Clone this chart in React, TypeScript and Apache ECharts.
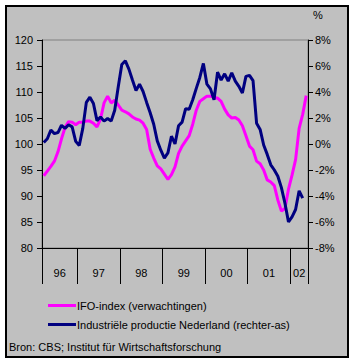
import React, { useEffect, useRef } from 'react';
import * as echarts from 'echarts';

const months = [
  'mrt 96', 'apr 96', 'mei 96', 'jun 96', 'jul 96', 'aug 96', 'sep 96', 'okt 96', 'nov 96', 'dec 96',
  'jan 97', 'feb 97', 'mrt 97', 'apr 97', 'mei 97', 'jun 97', 'jul 97', 'aug 97', 'sep 97', 'okt 97', 'nov 97', 'dec 97',
  'jan 98', 'feb 98', 'mrt 98', 'apr 98', 'mei 98', 'jun 98', 'jul 98', 'aug 98', 'sep 98', 'okt 98', 'nov 98', 'dec 98',
  'jan 99', 'feb 99', 'mrt 99', 'apr 99', 'mei 99', 'jun 99', 'jul 99', 'aug 99', 'sep 99', 'okt 99', 'nov 99', 'dec 99',
  'jan 00', 'feb 00', 'mrt 00', 'apr 00', 'mei 00', 'jun 00', 'jul 00', 'aug 00', 'sep 00', 'okt 00', 'nov 00', 'dec 00',
  'jan 01', 'feb 01', 'mrt 01', 'apr 01', 'mei 01', 'jun 01', 'jul 01', 'aug 01', 'sep 01', 'okt 01', 'nov 01', 'dec 01',
  'jan 02', 'feb 02', 'mrt 02', 'apr 02', 'mei 02',
];

// IFO-index (verwachtingen), left axis
const ifoIndex = [
  93.9, 94.8, 95.7, 96.7, 98.5, 101.0, 103.2, 104.3, 104.2, 103.7,
  104.2, 104.2, 104.4, 104.4, 104.0, 103.3, 104.8, 107.9, 109.2, 107.9, 108.4, 107.5,
  106.5, 106.2, 105.8, 105.2, 104.8, 104.6, 104.0, 102.8, 99.0, 97.3, 95.8, 95.2,
  94.2, 93.2, 94.1, 95.6, 98.2, 99.6, 100.6, 101.6, 103.8, 106.5, 108.2, 108.7,
  109.2, 109.2, 109.0, 108.8, 108.2, 106.7, 105.6, 105.0, 105.1, 104.6, 103.5, 101.6,
  99.6, 98.9, 96.7, 96.2, 95.0, 93.1, 92.7, 92.0, 89.2, 87.1, 87.6, 91.3,
  94.0, 97.0, 103.0, 105.7, 109.3,
];

// Industriële productie Nederland (%), right axis
const industrialProduction = [
  0.12, 0.4, 1.08, 0.8, 0.88, 1.44, 1.2, 1.48, 1.32, 0.2,
  -0.12, 1.2, 3.2, 3.6, 3.12, 1.8, 2.08, 1.76, 1.96, 1.76, 2.6, 4.4,
  6.12, 6.4, 5.76, 4.92, 4.12, 4.6, 4.04, 3.2, 2.4, 1.52, 0.24, -0.48,
  -1.08, -0.68, 0.6, 0.0, 1.4, 1.68, 2.72, 2.68, 3.4, 4.28, 5.12, 6.2,
  4.6, 4.24, 3.4, 5.52, 4.92, 5.4, 4.84, 5.48, 4.84, 4.44, 3.92, 5.2,
  5.28, 4.88, 1.6, 1.12, -0.08, -0.8, -1.6, -2.0, -2.48, -3.36, -4.56, -6.0,
  -5.6, -5.04, -3.6, -4.16, null,
];

const yearLabels = ['96', '97', '98', '99', '00', '01', '02'];
const yearStarts = [0, 10, 22, 34, 46, 58, 70, 75];

const leftTicks = { min: 80, max: 120, interval: 5 };
const rightTicks = { min: -8, max: 8, interval: 2 };

export default function App() {
  const ref = useRef<HTMLDivElement>(null);
  useEffect(() => {
    const chart = echarts.init(ref.current!, null, { renderer: 'svg' });
    const font = "'Liberation Sans', Arial, sans-serif";
    const mids = yearLabels.map((_, i) => (yearStarts[i] + yearStarts[i + 1]) / 2);
    const axisLineStyle = { color: '#000', width: 1 };
    chart.setOption({
      animation: false,
      textStyle: { fontFamily: font, fontSize: 11, color: '#000' },
      grid: {
        left: 42, right: 46, top: 40, bottom: 115,
        show: true, borderColor: '#808080', borderWidth: 1, backgroundColor: 'transparent',
      },
      xAxis: {
        type: 'value',
        min: 0,
        max: months.length,
        axisLine: { show: true, onZero: false, lineStyle: axisLineStyle },
        axisTick: { show: true, customValues: yearStarts, length: 36, lineStyle: axisLineStyle },
        axisLabel: {
          customValues: mids,
          formatter: (v: number) => yearLabels[mids.indexOf(v)] ?? '',
          margin: 19,
          color: '#000',
          fontSize: 11,
          fontFamily: font,
        },
        splitLine: { show: false },
      },
      yAxis: [
        {
          type: 'value',
          position: 'left',
          ...leftTicks,
          axisLine: { show: true, onZero: false, lineStyle: axisLineStyle },
          axisTick: { show: true, length: 5, lineStyle: axisLineStyle },
          axisLabel: { margin: 9, color: '#000', fontSize: 11, fontFamily: font },
          splitLine: { show: false },
        },
        {
          type: 'value',
          position: 'right',
          ...rightTicks,
          axisLine: { show: true, onZero: false, lineStyle: axisLineStyle },
          axisTick: { show: true, length: 5, lineStyle: axisLineStyle },
          axisLabel: { margin: 7, color: '#000', fontSize: 11, fontFamily: font, formatter: '{value}%' },
          splitLine: { show: false },
        },
      ],
      legend: {
        orient: 'vertical',
        left: 48,
        top: 299,
        itemWidth: 28,
        itemHeight: 3,
        itemGap: 6,
        icon: 'rect',
        padding: 0,
        textStyle: { fontSize: 11, color: '#000', fontFamily: font, lineHeight: 13, padding: [0, 0, 0, -4] },
        data: ['IFO-index (verwachtingen)', 'Industriële productie Nederland (rechter-as)'],
      },
      graphic: [
        {
          type: 'text', left: 313, top: 9,
          style: { text: '%', font: `11px ${font}`, fill: '#000' },
        },
        {
          type: 'text', left: 9, top: 341,
          style: { text: 'Bron: CBS; Institut für Wirtschaftsforschung', font: `11px ${font}`, fill: '#000' },
        },
      ],
      series: [
        {
          name: 'IFO-index (verwachtingen)',
          type: 'line',
          yAxisIndex: 0,
          showSymbol: false,
          itemStyle: { color: '#FF00FF' },
          lineStyle: { color: '#FF00FF', width: 3 },
          data: ifoIndex.map((v, i) => [i + 0.5, v]),
        },
        {
          name: 'Industriële productie Nederland (rechter-as)',
          type: 'line',
          yAxisIndex: 1,
          showSymbol: false,
          itemStyle: { color: '#000080' },
          lineStyle: { color: '#000080', width: 3 },
          data: industrialProduction.map((v, i) => [i + 0.5, v]),
        },
      ],
    });
    return () => chart.dispose();
  }, []);
  return (
    <div style={{ position: 'absolute', left: 0, top: 0, width: 354, height: 363, background: '#fff' }}>
      <div style={{ position: 'absolute', left: 5, top: 5, width: 340, height: 349, border: '2px solid #000', background: '#C0C0C0' }} />
      <div ref={ref} style={{ position: 'absolute', left: 0, top: 0, width: 354, height: 363 }} />
    </div>
  );
}
